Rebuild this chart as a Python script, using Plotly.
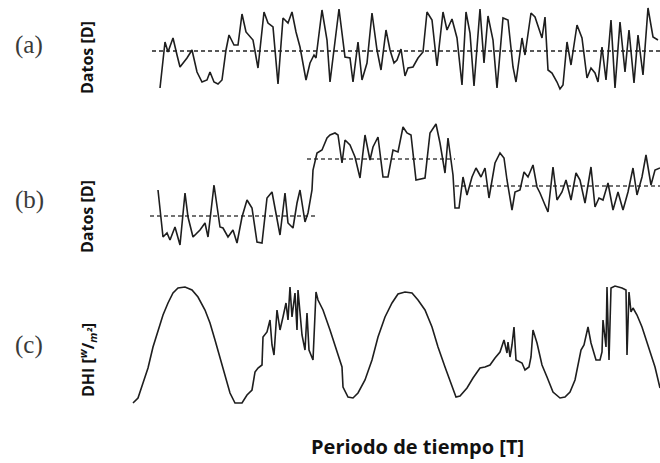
import plotly.graph_objects as go

W, H = 660, 463

# ---- Panel (a): time index and data values ----
a_t = [30, 35, 38, 43, 47, 50, 57, 62, 67, 72, 77, 80, 84, 88, 92, 96, 99, 104, 108, 112, 116, 119, 123, 128,
       134, 138, 143, 148, 153, 158, 162, 166, 170, 176, 180, 184, 186, 192, 197, 200, 209, 215, 220, 223, 228,
       232, 237, 242, 247, 251, 256, 260, 264, 267, 271, 275, 278, 283, 288, 293, 297, 302, 307, 313, 317, 322,
       327, 332, 336, 340, 344, 350, 354, 358, 363, 367, 373, 378, 383, 386, 392, 395, 401, 405, 408, 412, 415,
       418, 422, 427, 430, 433, 437, 441, 447, 452, 457, 461, 465, 468, 472, 476, 481, 485, 490, 495, 499, 504,
       508, 513, 518, 523, 528]
a_v = [12, 58, 48, 62, 45, 33, 42, 50, 28, 18, 20, 28, 18, 16, 20, 50, 65, 55, 55, 86, 68, 65, 60, 32,
       88, 77, 73, 16, 82, 77, 88, 68, 53, 20, 37, 45, 42, 90, 60, 18, 91, 43, 42, 18, 58,
       20, 37, 87, 50, 30, 70, 50, 37, 40, 51, 24, 32, 33, 42, 48, 88, 80, 34, 88, 70, 81,
       62, 15, 88, 67, 14, 91, 37, 84, 60, 12, 82, 80, 33, 18, 62, 45, 87, 83, 74, 62, 83,
       30, 27, 18, 11, 15, 58, 35, 75, 62, 22, 32, 27, 18, 53, 20, 80, 12, 78, 28, 70,
       17, 65, 25, 92, 63, 60]
a_mean = 49
a_mean_t = [22, 530]

# ---- Panel (b) ----
b_t = [28, 33, 37, 40, 45, 50, 55, 58, 63, 70, 75, 78, 84, 90, 93, 98, 103, 107, 112, 117, 122, 127, 132, 137,
       142, 146, 150, 155, 158, 163, 167, 170, 175, 178, 182, 183, 187, 192, 197, 200, 205, 208, 212, 215, 220,
       225, 230, 235, 240, 243, 248, 253, 258, 263, 268, 273, 277, 281, 286, 295, 300, 306, 310, 315, 318, 323,
       325, 329, 333, 337, 342, 346, 351, 355, 359, 365, 370, 374, 377, 382, 385, 390, 394, 398, 403, 407, 410,
       415, 418, 423, 427, 432, 436, 441, 446, 450, 455, 461, 465, 469, 473, 478, 483, 488, 493, 498, 503, 507,
       512, 516, 521, 525, 530]
b_v = [70, 23, 27, 20, 33, 15, 67, 43, 23, 30, 37, 23, 75, 33, 32, 23, 30, 17, 43, 60, 52, 18, 17, 62,
       68, 45, 25, 67, 37, 32, 57, 70, 38, 47, 70, 90, 107, 110, 122, 125, 127, 125, 97, 120, 115,
       103, 82, 125, 100, 113, 123, 83, 83, 110, 108, 133, 127, 125, 80, 82, 127, 136, 117, 87, 122, 85,
       52, 52, 83, 65, 83, 92, 83, 92, 62, 97, 107, 102, 80, 50, 68, 70, 88, 83, 95, 73, 67,
       55, 48, 93, 60, 68, 80, 60, 87, 80, 57, 93, 53, 62, 60, 77, 50, 68, 50, 68, 92, 65,
       83, 105, 75, 90, 92]
b_mean = [44, 101, 74]
b_mean_t = [[20, 187], [177, 325], [325, 530]]

# ---- Panel (c) ----
c_t = [3, 8, 13, 18, 23, 28, 33, 38, 43, 48, 55, 62, 68, 75, 80, 85, 90, 95, 100, 105,
       112, 117, 122, 125, 128, 132, 133, 137, 140, 142, 144, 147, 150, 153, 156, 158, 160, 162, 165, 167,
       168, 172, 175, 177, 179, 183, 186, 188, 193, 200, 207, 212, 213, 218, 223, 228, 235, 242, 248, 255,
       262, 268, 275, 282, 288, 295, 302, 308, 315, 322, 326, 330, 337, 343, 350, 355, 360, 365, 370, 374,
       377, 378, 380, 382, 384, 386, 392, 395, 399, 401, 403, 407, 412, 417, 423, 430, 435, 440, 445, 451,
       454, 458, 461, 466, 470, 472, 473, 476, 477, 479, 481, 485, 492, 496, 497, 499, 501, 503, 507, 512,
       518, 525, 530]
c_v = [17, 22, 37, 52, 73, 90, 105, 117, 127, 132, 133, 130, 123, 110, 97, 80, 63, 45, 27, 17,
       17, 25, 30, 48, 52, 55, 83, 88, 100, 75, 65, 110, 90, 103, 117, 100, 133, 103, 127, 90,
       130, 85, 70, 107, 70, 60, 128, 120, 110, 90, 67, 53, 33, 23, 22, 27, 40, 60, 83, 103,
       117, 126, 128, 127, 120, 110, 93, 73, 53, 33, 23, 24, 32, 42, 52, 53, 55, 62, 68, 80,
       67, 78, 63, 75, 93, 60, 57, 50, 53, 63, 90, 77, 55, 43, 28, 22, 23, 28, 40, 70,
       75, 93, 77, 60, 60, 68, 100, 73, 133, 60, 132, 134, 132, 130, 65, 128, 108, 112, 105, 93,
       75, 53, 32]

# ---- Text ----
panel_labels = ["(a)", "(b)", "(c)"]
y_labels = ["Datos [D]", "Datos [D]", "DHI [<sup><i>w</i></sup>/<sub><i>m²</i></sub>]"]
x_title = "Periodo de tiempo [T]"

# panel pixel bands (top, bottom) and y ranges
bands = [(0, 100, 100), (110, 260, 150), (270, 420, 150)]

fig = go.Figure()
line_col = "#1e1e1e"

def dom(top, bot):
    return [1 - bot / H, 1 - top / H]

fig.add_trace(go.Scatter(x=a_mean_t, y=[a_mean, a_mean], mode="lines", xaxis="x", yaxis="y",
                         line=dict(color="#222", width=1.6, dash="4px,3px"), hoverinfo="skip"))
fig.add_trace(go.Scatter(x=a_t, y=a_v, mode="lines", xaxis="x", yaxis="y",
                         line=dict(color=line_col, width=1.6)))
for m, tt in zip(b_mean, b_mean_t):
    fig.add_trace(go.Scatter(x=tt, y=[m, m], mode="lines", xaxis="x2", yaxis="y2",
                             line=dict(color="#444", width=1.3, dash="4px,3px"), hoverinfo="skip"))
fig.add_trace(go.Scatter(x=b_t, y=b_v, mode="lines", xaxis="x2", yaxis="y2",
                         line=dict(color=line_col, width=1.6)))
fig.add_trace(go.Scatter(x=c_t, y=c_v, mode="lines", xaxis="x3", yaxis="y3",
                         line=dict(color=line_col, width=1.6)))

ax = dict(showgrid=False, zeroline=False, showline=False, showticklabels=False, ticks="",
          range=[0, 530], domain=[130 / W, 1], fixedrange=True)
layout = dict(
    width=W, height=H, margin=dict(l=0, r=0, t=0, b=0),
    paper_bgcolor="white", plot_bgcolor="white", showlegend=False,
    xaxis=dict(ax), xaxis2=dict(ax, anchor="y2"), xaxis3=dict(ax, anchor="y3"),
)
for i, (top, bot, rng) in enumerate(bands):
    key = "yaxis" if i == 0 else f"yaxis{i+1}"
    layout[key] = dict(showgrid=False, zeroline=False, showline=False, showticklabels=False, ticks="",
                       range=[0, rng], domain=dom(top, bot), anchor="x" if i == 0 else f"x{i+1}",
                       fixedrange=True)
fig.update_layout(**layout)

ann = []
label_y = [45, 200, 345]
ylab_y = [57, 216, 360]
for lab, ly in zip(panel_labels, label_y):
    ann.append(dict(text=lab, x=29 / W, y=1 - ly / H, xref="paper", yref="paper", showarrow=False,
                    xanchor="center", yanchor="middle",
                    font=dict(family="Liberation Serif, Times New Roman, serif", size=25, color="#3a3a3a")))
for lab, ly in zip(y_labels, ylab_y):
    ann.append(dict(text=f"<b>{lab}</b>", x=87 / W, y=1 - ly / H, xref="paper", yref="paper",
                    showarrow=False, textangle=-90, xanchor="center", yanchor="middle",
                    font=dict(family="Open Sans, Liberation Sans, sans-serif", size=16, color="#111")))
ann.append(dict(text=f"<b>{x_title}</b>", x=417 / W, y=1 - 446 / H, xref="paper", yref="paper",
                showarrow=False, xanchor="center", yanchor="middle",
                font=dict(family="Open Sans, Liberation Sans, sans-serif", size=20, color="#111")))
fig.update_layout(annotations=ann)

fig.write_html("out.html")
